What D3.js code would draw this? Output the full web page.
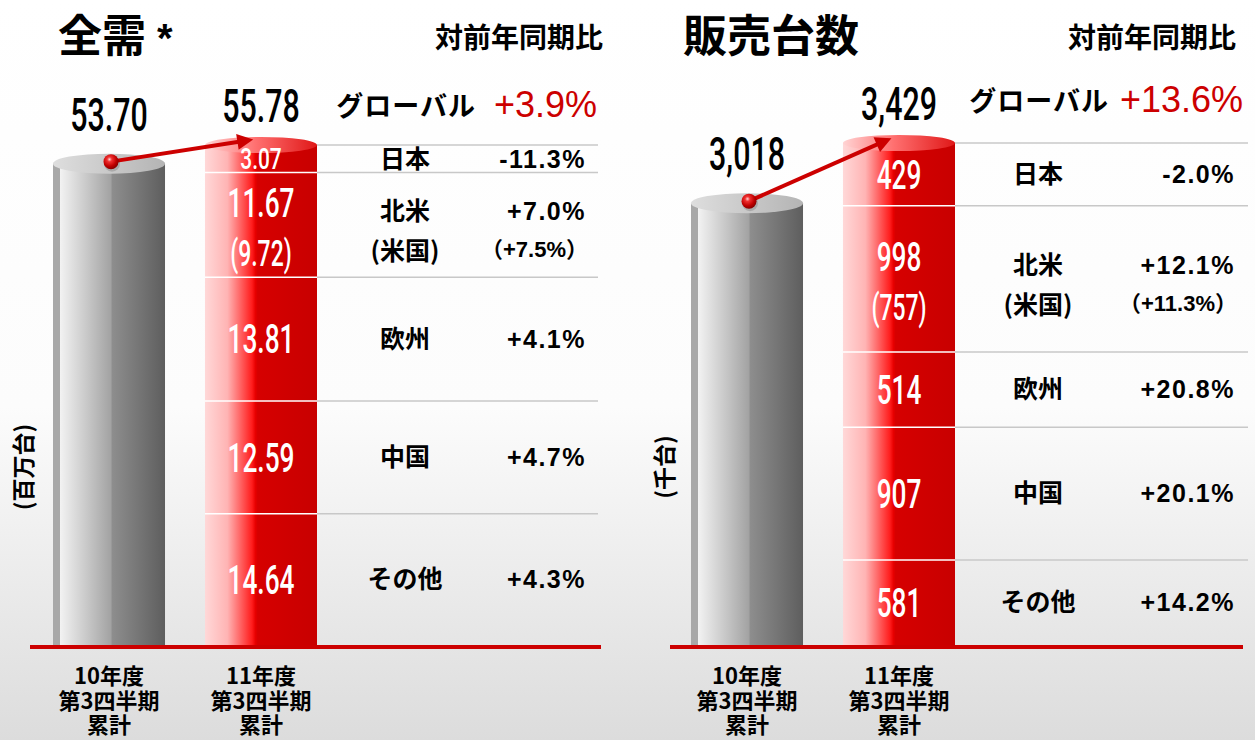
<!DOCTYPE html>
<html>
<head>
<meta charset="utf-8">
<script src="https://cdn.jsdelivr.net/npm/d3@7"></script>
<style>
  body { margin: 0; background: #fff; }
  svg { display: block; }
  text { font-family: "Noto Sans CJK JP", "Liberation Sans", sans-serif; }
</style>
</head>
<body>
<script>
// ---- data ----
var regions = ['日本', '北米', '欧州', '中国', 'その他']
var usLabel = '(米国)'
var periodLines = [['10年度', '第3四半期', '累計'], ['11年度', '第3四半期', '累計']]
var periodKeys = periodLines.map(d => d[0])

// total demand (million units)
var demandTotals = [53.70, 55.78]
var demandByRegion = [3.07, 11.67, 13.81, 12.59, 14.64]
var demandUS = 9.72
var demandGrowth = ['-11.3%', '+7.0%', '+4.1%', '+4.7%', '+4.3%']
var demandUSGrowth = '+7.5%'
var demandGlobalGrowth = '+3.9%'

// unit sales (thousand units)
var salesTotals = [3018, 3429]
var salesByRegion = [429, 998, 514, 907, 581]
var salesUS = 757
var salesGrowth = ['-2.0%', '+12.1%', '+20.8%', '+20.1%', '+14.2%']
var salesUSGrowth = '+11.3%'
var salesGlobalGrowth = '+13.6%'

var W = 1255, H = 740, BASE = 645
var RED = '#cc0000'
var numFont = 'Roboto, "Liberation Sans", sans-serif'
var latFont = '"Liberation Sans", "Noto Sans CJK JP", sans-serif'

var svg = d3.select('body').append('svg').attr('width', W).attr('height', H)
var defs = svg.append('defs')

function grad(id, stops, vertical) {
  var g = defs.append('linearGradient').attr('id', id)
    .attr('x1', 0).attr('y1', 0).attr('x2', vertical ? 0 : 1).attr('y2', vertical ? 1 : 0)
  stops.forEach(s => g.append('stop').attr('offset', s[0]).attr('stop-color', s[1]))
}
grad('bg', [[0, '#ffffff'], [0.55, '#fcfcfc'], [1, '#dcdcdc']], true)
grad('grayBody', [[0, '#a8a8a8'], [0.06, '#a8a8a8'], [0.065, '#f2f2f2'], [0.52, '#a2a2a2'], [0.525, '#8e8e8e'], [1, '#5e5e5e']])
grad('grayTop', [[0, '#dedede'], [1, '#b4b4b4']])
grad('redBody', [[0, '#ffd8d8'], [0.2, '#ffb4b4'], [0.42, '#ff1c1c'], [0.45, '#e80000'], [0.47, '#d60000'], [1, '#c80000']])
grad('redTop', [[0, '#ffd4d4'], [0.45, '#ff7070'], [1, '#e01818']])

var ball = defs.append('radialGradient').attr('id', 'ball').attr('cx', 0.4).attr('cy', 0.35).attr('r', 0.65)
;[[0, '#ffd0d0'], [0.25, '#f03030'], [0.7, '#c00000'], [1, '#880000']].forEach(s =>
  ball.append('stop').attr('offset', s[0]).attr('stop-color', s[1]))

defs.append('marker').attr('id', 'head')
  .attr('viewBox', '0 0 10 10').attr('refX', 3).attr('refY', 5)
  .attr('markerWidth', 20).attr('markerHeight', 16)
  .attr('markerUnits', 'userSpaceOnUse').attr('orient', 'auto')
  .append('path').attr('d', 'M0,0L10,5L0,10z').attr('fill', RED)

svg.append('rect').attr('width', W).attr('height', H).attr('fill', 'url(#bg)')

// tall narrow numerals
function cond(g, x, y, str, size, sx, color) {
  g.append('text')
    .attr('transform', 'translate(' + x + ',' + y + ') scale(' + sx + ',1)')
    .attr('text-anchor', 'middle')
    .style('font-family', numFont).style('font-size', size + 'px').style('font-weight', 500)
    .attr('fill', color).text(str)
}

function drawPanel(p) {
  var g = svg.append('g')
  var x = d3.scaleBand().domain(periodKeys).range(p.xRange).paddingInner(0.263)
  var bw = x.bandwidth()
  var total = d3.sum(p.byRegion)
  var y = d3.scaleLinear().domain([0, total]).range([BASE, p.top])

  var acc = 0
  var segs = p.byRegion.map((v, i) => ({region: regions[i], v: v, i: i, growth: p.growth[i]}))
    .reverse()
    .map(d => { d.y0 = acc; acc += d.v; d.y1 = acc; return d })
    .reverse()

  var gx = x(periodKeys[0]), rx = x(periodKeys[1])
  var gTop = y(p.totals[0]), rTop = y(p.totals[1])

  // gray cylinder
  g.append('rect').attr('x', gx).attr('y', gTop).attr('width', bw).attr('height', BASE - gTop)
    .attr('fill', 'url(#grayBody)')
  g.append('ellipse').attr('cx', gx + bw / 2).attr('cy', gTop).attr('rx', bw / 2).attr('ry', 10)
    .attr('fill', 'url(#grayTop)')

  // table lines
  g.selectAll('line.row').data(segs).enter().append('line')
    .attr('x1', rx + bw).attr('x2', p.tableRight)
    .attr('y1', d => y(d.y1)).attr('y2', d => y(d.y1))
    .attr('stroke', '#c8c8c8').attr('stroke-width', 1.5)

  // red stacked cylinder
  g.append('rect').attr('x', rx).attr('y', rTop).attr('width', bw).attr('height', BASE - rTop)
    .attr('fill', 'url(#redBody)')
  g.selectAll('line.sep').data(segs.filter(d => d.y1 < total)).enter().append('line')
    .attr('x1', rx).attr('x2', rx + bw)
    .attr('y1', d => y(d.y1)).attr('y2', d => y(d.y1))
    .attr('stroke', '#fff').attr('stroke-width', 1.5)
  g.append('ellipse').attr('cx', rx + bw / 2).attr('cy', rTop).attr('rx', bw / 2).attr('ry', 8)
    .attr('fill', 'url(#redTop)')

  // labels inside segments and table text
  segs.forEach(d => {
    var cy = y((d.y0 + d.y1) / 2)
    var segH = y(d.y0) - y(d.y1)
    var small = segH < 45
    var size = small ? 29 : 41, sx = small ? 0.72 : 0.64
    var cx = rx + bw / 2
    var val = p.fmt(d.v)
    if (d.i === 1) {
      cond(g, cx, cy - 22 + size * 0.35, val, size, sx, '#fff')
      cond(g, cx, cy + 27 + size * 0.35, '(' + p.fmt(p.us) + ')', size * 0.92, sx * 0.95, '#fff')
      g.append('text').attr('x', p.labelX).attr('y', cy - 14).attr('dy', '0.35em')
        .attr('text-anchor', 'middle').style('font-size', '25px').style('font-weight', 700).text(d.region)
      g.append('text').attr('x', p.labelX).attr('y', cy + 26).attr('dy', '0.35em')
        .attr('text-anchor', 'middle').style('font-size', '25px').style('font-weight', 700).text(usLabel)
      g.append('text').attr('x', p.valueX).attr('y', cy - 14).attr('dy', '0.35em')
        .attr('text-anchor', 'end').style('font-family', latFont).style('font-size', '25px')
        .style('font-weight', 700).style('letter-spacing', '1.5px').text(d.growth)
      g.append('text').attr('x', p.valueX + 2).attr('y', cy + 24).attr('dy', '0.35em')
        .attr('text-anchor', 'end').style('font-family', latFont).style('font-size', '22px')
        .style('font-weight', 700).text('（' + p.usGrowth + '）')
    } else {
      cond(g, cx, cy + size * 0.35, val, size, sx, '#fff')
      g.append('text').attr('x', p.labelX).attr('y', cy).attr('dy', '0.35em')
        .attr('text-anchor', 'middle').style('font-size', '25px').style('font-weight', 700).text(d.region)
      g.append('text').attr('x', p.valueX).attr('y', cy).attr('dy', '0.35em')
        .attr('text-anchor', 'end').style('font-family', latFont).style('font-size', '25px')
        .style('font-weight', 700).style('letter-spacing', '1.5px').text(d.growth)
    }
  })

  // global row
  g.append('text').attr('x', p.globalLabelX).attr('y', p.globalY)
    .attr('text-anchor', 'end').style('font-size', '27px').style('font-weight', 700)
    .style('letter-spacing', '1px').text('グローバル')
  g.append('text').attr('x', p.globalValX).attr('y', p.globalY + 1)
    .attr('text-anchor', 'end').style('font-family', latFont).style('font-size', '36px')
    .attr('fill', RED).text(p.globalGrowth)

  // totals above cylinders
  cond(g, gx + bw / 2, gTop - 33, p.fmt(p.totals[0]), 46, 0.66, '#000')
  cond(g, rx + bw / 2, rTop - 23, p.fmt(p.totals[1]), 46, 0.66, '#000')

  // arrow + ball
  var bx = gx + bw / 2 + 2, by = gTop - 2
  var tx = rx + bw / 2 - 5, ty = rTop - 6
  var ang = Math.atan2(ty - by, tx - bx)
  g.append('line').attr('x1', bx).attr('y1', by)
    .attr('x2', tx - 14 * Math.cos(ang)).attr('y2', ty - 14 * Math.sin(ang))
    .attr('stroke', RED).attr('stroke-width', 4).attr('marker-end', 'url(#head)')
  g.append('circle').attr('cx', bx + 1).attr('cy', by + 2).attr('r', 8).attr('fill', 'rgba(0,0,0,0.15)')
  g.append('circle').attr('cx', bx).attr('cy', by).attr('r', 7.5).attr('fill', 'url(#ball)')

  // baseline
  g.append('rect').attr('x', p.baseX[0]).attr('y', BASE).attr('width', p.baseX[1] - p.baseX[0])
    .attr('height', 4).attr('fill', RED)

  // category labels
  periodLines.forEach((lines, i) => {
    var t = g.append('text').attr('text-anchor', 'middle')
      .style('font-size', '22px').style('font-weight', 700)
    lines.forEach((l, j) => {
      t.append('tspan').attr('x', x(periodKeys[i]) + bw / 2).attr('y', 684 + j * 24.5).text(l)
    })
  })

  // unit label
  g.append('text').attr('transform', 'translate(' + p.unitX + ',' + 467 + ') rotate(-90)')
    .attr('text-anchor', 'middle').attr('dy', '0.35em')
    .style('font-size', '23px').style('font-weight', 700).text(p.unit)

  // titles
  var tt = g.append('text').attr('x', p.titleX).attr('y', 52)
    .style('font-size', '44px').style('font-weight', 700).text(p.title)
  if (p.star) tt.append('tspan').style('font-family', latFont).style('font-size', '40px').text(' *')
  g.append('text').attr('x', p.yoyX).attr('y', 48)
    .style('font-size', '28px').style('font-weight', 700).text('対前年同期比')
}

drawPanel({
  totals: demandTotals, byRegion: demandByRegion, us: demandUS,
  growth: demandGrowth, usGrowth: demandUSGrowth, globalGrowth: demandGlobalGrowth,
  fmt: d3.format('.2f'),
  xRange: [53, 317], top: 145, tableRight: 598,
  labelX: 405, valueX: 586, globalLabelX: 476, globalValX: 597, globalY: 116,
  baseX: [30, 601], unit: '(百万台)', unitX: 24,
  title: '全需', star: true, titleX: 58, yoyX: 435
})

drawPanel({
  totals: salesTotals, byRegion: salesByRegion, us: salesUS,
  growth: salesGrowth, usGrowth: salesUSGrowth, globalGrowth: salesGlobalGrowth,
  fmt: d3.format(','),
  xRange: [691, 955], top: 143, tableRight: 1248,
  labelX: 1038, valueX: 1235, globalLabelX: 1109, globalValX: 1243, globalY: 111,
  baseX: [670, 1243], unit: '(千台)', unitX: 665,
  title: '販売台数', star: false, titleX: 683, yoyX: 1068
})
</script>
</body>
</html>
